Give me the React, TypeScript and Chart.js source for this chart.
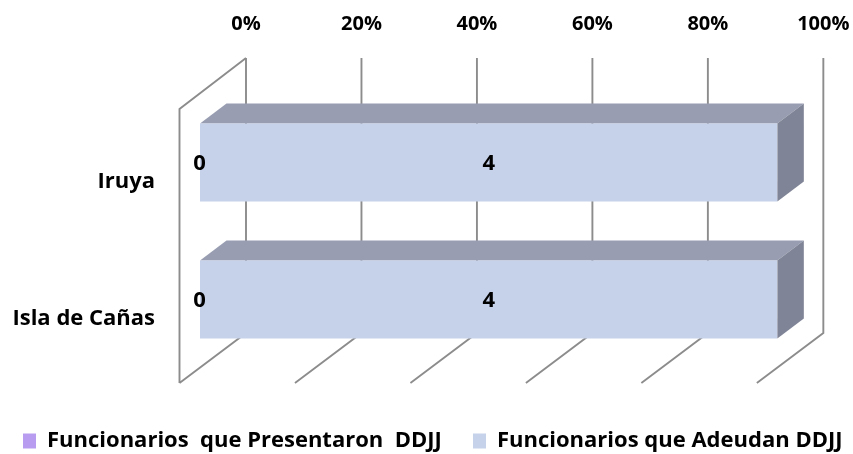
import React, { useEffect, useRef } from "react";
import { Chart, registerables } from "chart.js";

Chart.register(...registerables);

const categories = ["Iruya", "Isla de Cañas"];
const presentaron = [0, 0];
const adeudan = [4, 4];
const seriesNames = ["Funcionarios  que Presentaron  DDJJ", "Funcionarios que Adeudan DDJJ"];
const seriesColors = ["#b79cef", "#c6d1ea"];
const percentTicks = [0, 20, 40, 60, 80, 100];

const FAMILY = "'Open Sans', sans-serif";
const FONT = { family: FAMILY, size: 22, weight: "bold" as const };
const TICK_FONT = { family: FAMILY, size: 20, weight: "bold" as const };
const TEXT = "#000000";
const GRID = "#8c8c8c";

// depth of the 3D projection relative to the plane of the bars' front faces
const BACK = { dx: 46, dtop: -36, dbottom: -35 };
const FRONT = { dx: -20.5, dtop: 15, dbottom: 15 };
const BAR_DEPTH = { dx: 26.5, dy: -20 };

const shares = (values: number[]) =>
  values.map((v, i) => {
    const total = presentaron[i] + adeudan[i];
    return total ? (v / total) * 100 : 0;
  });

function poly(ctx: CanvasRenderingContext2D, pts: number[][], fill: string) {
  ctx.beginPath();
  pts.forEach(([x, y], i) => (i ? ctx.lineTo(x, y) : ctx.moveTo(x, y)));
  ctx.closePath();
  ctx.fillStyle = fill;
  ctx.fill();
}

const depth3d = {
  id: "depth3d",
  afterLayout(chart: any) {
    chart.legend.left = 9;
    chart.legend.right = 900;
    chart.legend.top = 416;
    chart.legend.bottom = 454;
  },
  beforeDatasetsDraw(chart: any) {
    const { ctx, chartArea, scales } = chart;
    const backTop = chartArea.top + BACK.dtop;
    const backBottom = chartArea.bottom + BACK.dbottom;
    const frontTop = chartArea.top + FRONT.dtop;
    const frontBottom = chartArea.bottom + FRONT.dbottom;
    ctx.save();
    ctx.strokeStyle = GRID;
    ctx.lineWidth = 1.9;
    ctx.beginPath();
    scales.x.ticks.forEach((t: any) => {
      const px = scales.x.getPixelForValue(t.value);
      ctx.moveTo(px + BACK.dx, backTop);
      ctx.lineTo(px + BACK.dx, backBottom);
      ctx.lineTo(px + FRONT.dx, frontBottom);
    });
    const x0 = scales.x.getPixelForValue(percentTicks[0]);
    ctx.moveTo(x0 + BACK.dx, backTop);
    ctx.lineTo(x0 + FRONT.dx, frontTop);
    ctx.lineTo(x0 + FRONT.dx, frontBottom);
    ctx.stroke();

    chart.data.datasets.forEach((ds: any, di: number) => {
      chart.getDatasetMeta(di).data.forEach((bar: any) => {
        if (Math.abs(bar.x - bar.base) < 0.5) return;
        const top = bar.y - bar.height / 2;
        const bottom = bar.y + bar.height / 2;
        poly(ctx, [
          [bar.base, top],
          [bar.base + BAR_DEPTH.dx, top + BAR_DEPTH.dy],
          [bar.x + BAR_DEPTH.dx, top + BAR_DEPTH.dy],
          [bar.x, top],
        ], "#989db1");
        poly(ctx, [
          [bar.x, top],
          [bar.x + BAR_DEPTH.dx, top + BAR_DEPTH.dy],
          [bar.x + BAR_DEPTH.dx, bottom + BAR_DEPTH.dy],
          [bar.x, bottom],
        ], "#7f8496");
      });
    });
    ctx.restore();
  },
  afterDatasetsDraw(chart: any) {
    const { ctx } = chart;
    const raw = [presentaron, adeudan];
    ctx.save();
    ctx.fillStyle = TEXT;
    ctx.font = `${FONT.weight} ${FONT.size}px ${FONT.family}`;
    ctx.textAlign = "center";
    ctx.textBaseline = "middle";
    chart.data.datasets.forEach((_: any, di: number) => {
      chart.getDatasetMeta(di).data.forEach((bar: any, i: number) => {
        ctx.fillText(String(raw[di][i]), (bar.base + bar.x) / 2 - (di === 0 ? 0.5 : 0), bar.y + 1.5);
      });
    });
    ctx.restore();
  },
};

export default function App() {
  const ref = useRef<HTMLCanvasElement>(null);
  useEffect(() => {
    const chart = new Chart(ref.current!, {
      type: "bar",
      data: {
        labels: categories,
        datasets: [
          { label: seriesNames[0], data: shares(presentaron), backgroundColor: seriesColors[0], borderWidth: 0 },
          { label: seriesNames[1], data: shares(adeudan), backgroundColor: seriesColors[1], borderWidth: 0 },
        ],
      },
      options: {
        indexAxis: "y",
        responsive: false,
        animation: false,
        layout: { padding: { left: 0, right: 0, top: 0, bottom: 40 } },
        datasets: { bar: { categoryPercentage: 1, barPercentage: 78 / 137 } },
        scales: {
          x: {
            type: "linear",
            position: "top",
            stacked: true,
            min: percentTicks[0],
            max: percentTicks[percentTicks.length - 1],
            afterFit: (s: any) => { s.height = 94; },
            grid: { display: false, drawTicks: true, tickLength: 8.5 },
            border: { display: false },
            ticks: {
              stepSize: 20,
              autoSkip: false,
              maxRotation: 0,
              padding: 49.5,
              labelOffset: 46,
              color: TEXT,
              font: TICK_FONT,
              callback: (v: any) => `${v}%`,
            },
          },
          y: {
            type: "category",
            stacked: true,
            afterFit: (s: any) => { s.width = 200; },
            grid: { display: false, drawTicks: false },
            border: { display: false },
            ticks: { padding: 45, labelOffset: 19, color: TEXT, font: FONT },
          },
        },
        plugins: {
          title: { display: false },
          tooltip: { enabled: false },
          legend: {
            position: "bottom",
            align: "start",
            labels: {
              boxWidth: 13,
              boxHeight: 15,
              padding: 14,
              color: TEXT,
              font: FONT,
              // the wider gap between the two entries comes from trailing spaces,
              // since a larger label padding would wrap the legend onto two rows
              generateLabels: (chart: any) =>
                Chart.defaults.plugins.legend.labels.generateLabels(chart).map((item: any, i: number) => ({
                  ...item,
                  text: i === 0 ? `${item.text}   ` : item.text,
                })),
            },
          },
        },
      },
      plugins: [depth3d],
    } as any);
    return () => chart.destroy();
  }, []);
  return (
    <div style={{ position: "absolute", left: 0, top: 0, width: 853, height: 454, background: "#ffffff" }}>
      <canvas ref={ref} width={853} height={454} style={{ display: "block" }} />
    </div>
  );
}
